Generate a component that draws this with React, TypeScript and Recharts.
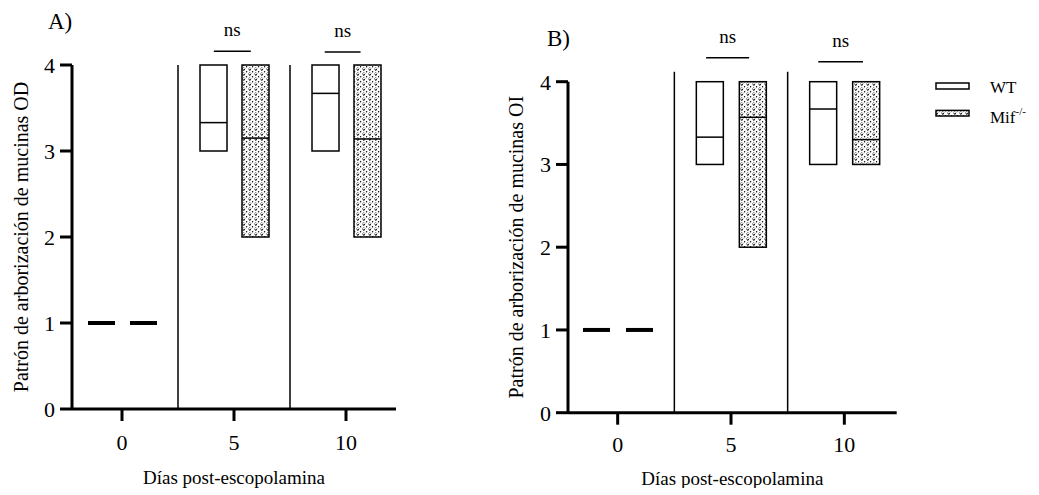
import React from 'react';
import { ComposedChart, Bar, XAxis, YAxis, ReferenceLine, Legend, Label } from 'recharts';

const days = ['0', '5', '10'];
const odWtRange = [[1, 1], [3, 4], [3, 4]];
const odWtMedian = [1, 3.33, 3.67];
const odMifRange = [[1, 1], [2, 4], [2, 4]];
const odMifMedian = [1, 3.15, 3.14];
const oiWtRange = [[1, 1], [3, 4], [3, 4]];
const oiWtMedian = [1, 3.33, 3.67];
const oiMifRange = [[1, 1], [2, 4], [3, 4]];
const oiMifMedian = [1, 3.57, 3.3];
const yTicks = [0, 1, 2, 3, 4];
const seriesNames = ['WT', 'Mif'];
const nsText = 'ns';

const FONT = '"Liberation Serif", "Times New Roman", serif';

const buildData = (wtR: number[][], wtM: number[], mifR: number[][], mifM: number[]) =>
  days.map((d, i) => ({ day: d, pos: i, wt: wtR[i], wtMed: wtM[i], mif: mifR[i], mifMed: mifM[i] }));

const dataOD = buildData(odWtRange, odWtMedian, odMifRange, odMifMedian);
const dataOI = buildData(oiWtRange, oiWtMedian, oiMifRange, oiMifMedian);

const PatternDef = ({ id }: { id: string }) => (
  <defs>
    <pattern id={id} width={6} height={5} patternUnits="userSpaceOnUse">
      <rect x={0} y={0} width={6} height={5} fill="#fff" />
      <path d="M0.6,0.6 L1.8,2.6 L3,0.6" stroke="#000" strokeWidth={0.9} fill="none" />
      <circle cx={4.6} cy={3.8} r={0.7} fill="#000" />
      <circle cx={1.8} cy={4.4} r={0.5} fill="#333" />
    </pattern>
  </defs>
);

const makeShape = (medKey: string, patternId: string | null) => (props: any) => {
  const { x, y, width, height, payload, value } = props;
  const arr = Array.isArray(value) ? value : payload[medKey === 'wtMed' ? 'wt' : 'mif'];
  const lo = arr[0];
  const hi = arr[1];
  const med = payload[medKey];
  if (!(hi > lo) || Math.abs(height) < 0.5) {
    return (
      <g>
        {patternId && <PatternDef id={patternId} />}
        <line x1={x} x2={x + width} y1={y} y2={y} stroke="#000" strokeWidth={4} />
      </g>
    );
  }
  const my = y + (height * (hi - med)) / (hi - lo);
  return (
    <g>
      {patternId && <PatternDef id={patternId} />}
      <rect
        x={x}
        y={y}
        width={width}
        height={height}
        fill={patternId ? `url(#${patternId})` : '#fff'}
        stroke="#000"
        strokeWidth={1.5}
      />
      <line x1={x} x2={x + width} y1={my} y2={my} stroke="#000" strokeWidth={1.5} />
    </g>
  );
};

const tickStyle = { fontSize: 22, fill: '#000', fontFamily: FONT };
const lineStyle = { stroke: '#000', strokeWidth: 3 };

const YLabel = (text: string, gap: number) => (p: any) => {
  const vb = p.viewBox;
  const cx = vb.x + vb.width - gap;
  const cy = vb.y + vb.height / 2;
  return (
    <text
      x={cx}
      y={cy}
      transform={`rotate(-90 ${cx} ${cy})`}
      textAnchor="middle"
      fontSize={20}
      fontFamily={FONT}
      fill="#000"
    >
      {text}
    </text>
  );
};

const XLabel = (text: string, dy: number) => (p: any) => {
  const vb = p.viewBox;
  return (
    <text x={vb.x + vb.width / 2} y={vb.y + dy} textAnchor="middle" fontSize={19} fontFamily={FONT} fill="#000">
      {text}
    </text>
  );
};

const LegendContent = () => (
  <svg width={110} height={50} style={{ overflow: 'visible', display: 'block' }}>
    <PatternDef id="patLegend" />
    <rect x={1} y={1} width={33} height={6} fill="#fff" stroke="#000" strokeWidth={1.5} />
    <text x={55} y={11} fontSize={17} fontFamily={FONT} fill="#000">
      {seriesNames[0]}
    </text>
    <rect x={1} y={28.4} width={33} height={5.6} fill="url(#patLegend)" stroke="#000" strokeWidth={1.5} />
    <text x={55} y={41} fontSize={17} fontFamily={FONT} fill="#000">
      {seriesNames[1]}
      <tspan dy={-8} fontSize={11}>
        -/-
      </tspan>
    </text>
  </svg>
);

const nsLabel = { value: nsText, position: 'top' as const, offset: 15, fontSize: 19, fill: '#000', fontFamily: FONT };

const App = () => {
  return (
    <div style={{ position: 'relative', width: 1023, height: 480, fontFamily: FONT }}>
      <div style={{ position: 'absolute', left: 0, top: 0 }}>
        <ComposedChart
          width={480}
          height={480}
          data={dataOD}
          margin={{ top: 57, right: 92, bottom: 29, left: 4 }}
          barSize={27}
          barGap={15}
        >
          <XAxis
            dataKey="day"
            height={50}
            padding={{ left: -6, right: -6 }}
            tickSize={12}
            tickMargin={13}
            tick={tickStyle}
            axisLine={lineStyle}
            tickLine={lineStyle}
          >
            <Label content={XLabel('Días post-escopolamina', 75)} />
          </XAxis>
          <XAxis
            xAxisId="num"
            dataKey="pos"
            type="number"
            domain={[0, 2]}
            hide
            padding={{ left: 50, right: 50 }}
          />
          <YAxis
            width={60}
            domain={[0, 4]}
            ticks={yTicks}
            tickSize={12}
            tickMargin={5}
            tick={tickStyle}
            axisLine={lineStyle}
            tickLine={lineStyle}
          >
            <Label content={YLabel('Patrón de arborización de mucinas OD', 44)} />
          </YAxis>
          <ReferenceLine xAxisId="num" x={0.5} stroke="#000" strokeWidth={1.5} />
          <ReferenceLine xAxisId="num" x={1.5} stroke="#000" strokeWidth={1.5} />
          <ReferenceLine
            xAxisId="num"
            segment={[{ x: 0.82, y: 4.16 }, { x: 1.15, y: 4.16 }]}
            ifOverflow="visible"
            stroke="#000"
            strokeWidth={1.5}
            label={nsLabel}
          />
          <ReferenceLine
            xAxisId="num"
            segment={[{ x: 1.81, y: 4.15 }, { x: 2.13, y: 4.15 }]}
            ifOverflow="visible"
            stroke="#000"
            strokeWidth={1.5}
            label={nsLabel}
          />
          <Bar dataKey="wt" name={seriesNames[0]} isAnimationActive={false} shape={makeShape('wtMed', null)} />
          <Bar dataKey="mif" name={seriesNames[1]} isAnimationActive={false} shape={makeShape('mifMed', 'patA')} />
        </ComposedChart>
      </div>
      <div style={{ position: 'absolute', left: 480, top: 0 }}>
        <ComposedChart
          width={543}
          height={480}
          data={dataOI}
          margin={{ top: 73.7, right: 134.3, bottom: 25.3, left: 20 }}
          barSize={27}
          barGap={16}
        >
          <XAxis
            dataKey="day"
            height={50}
            padding={{ left: -7, right: -4.3 }}
            tickSize={12}
            tickMargin={12}
            tick={tickStyle}
            axisLine={lineStyle}
            tickLine={lineStyle}
          >
            <Label content={XLabel('Días post-escopolamina', 72)} />
          </XAxis>
          <XAxis
            xAxisId="num"
            dataKey="pos"
            type="number"
            domain={[0, 2]}
            hide
            padding={{ left: 49.7, right: 52.4 }}
          />
          <YAxis
            width={60}
            domain={[0, 4]}
            ticks={yTicks}
            tickSize={12}
            tickMargin={5}
            tick={tickStyle}
            axisLine={lineStyle}
            tickLine={lineStyle}
          >
            <Label content={YLabel('Patrón de arborización de mucinas OI', 45)} />
          </YAxis>
          <ReferenceLine
            xAxisId="num"
            segment={[{ x: 0.5, y: 0 }, { x: 0.5, y: 4.12 }]}
            ifOverflow="visible"
            stroke="#000"
            strokeWidth={1.5}
          />
          <ReferenceLine
            xAxisId="num"
            segment={[{ x: 1.5, y: 0 }, { x: 1.5, y: 4.12 }]}
            ifOverflow="visible"
            stroke="#000"
            strokeWidth={1.5}
          />
          <ReferenceLine
            xAxisId="num"
            segment={[{ x: 0.78, y: 4.29 }, { x: 1.16, y: 4.29 }]}
            ifOverflow="visible"
            stroke="#000"
            strokeWidth={1.5}
            label={nsLabel}
          />
          <ReferenceLine
            xAxisId="num"
            segment={[{ x: 1.77, y: 4.24 }, { x: 2.165, y: 4.24 }]}
            ifOverflow="visible"
            stroke="#000"
            strokeWidth={1.5}
            label={nsLabel}
          />
          <Bar dataKey="wt" name={seriesNames[0]} isAnimationActive={false} shape={makeShape('wtMed', null)} />
          <Bar dataKey="mif" name={seriesNames[1]} isAnimationActive={false} shape={makeShape('mifMed', 'patB')} />
          <Legend
            layout="vertical"
            align="center"
            verticalAlign="middle"
            content={LegendContent}
            wrapperStyle={{ left: 447, top: 74.3, width: 110, height: 50 }}
          />
        </ComposedChart>
      </div>
      <svg
        width={1023}
        height={60}
        style={{ position: 'absolute', left: 0, top: 0, pointerEvents: 'none' }}
      >
        <text x={40} y={20.5} fontSize={23} fontFamily={FONT} fill="#000">
          A)
        </text>
        <text x={539} y={38} fontSize={23} fontFamily={FONT} fill="#000">
          B)
        </text>
      </svg>
    </div>
  );
};

export default App;
